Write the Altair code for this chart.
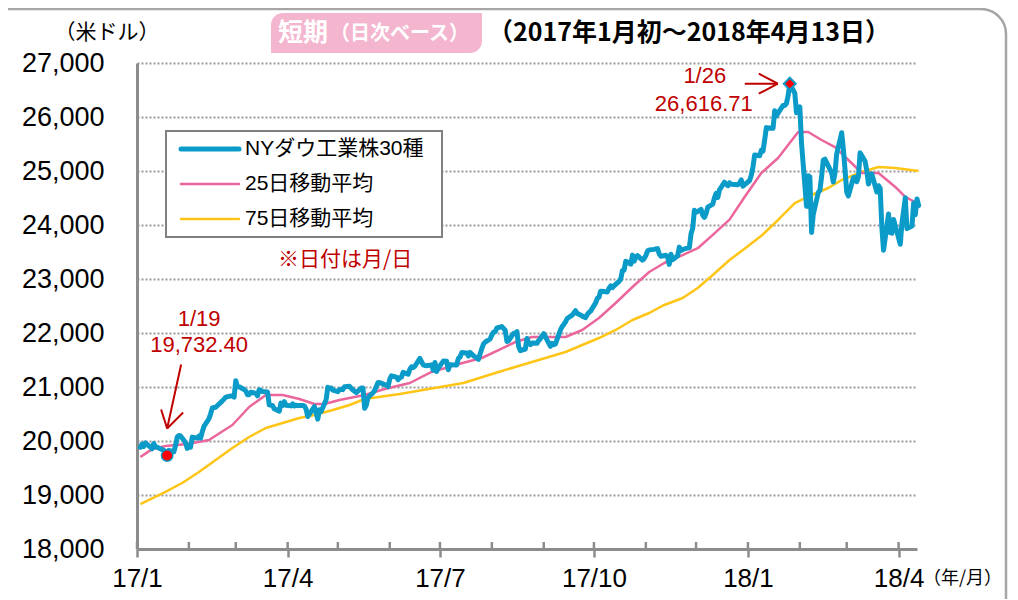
import altair as alt
import pandas as pd

# ---------------- data ----------------
dow_dates = [
    "2017-01-03","2017-01-04","2017-01-05","2017-01-06","2017-01-09","2017-01-10","2017-01-11","2017-01-12","2017-01-13",
    "2017-01-17","2017-01-18","2017-01-19","2017-01-20","2017-01-23","2017-01-24","2017-01-25","2017-01-26","2017-01-27",
    "2017-01-30","2017-01-31",
    "2017-02-01","2017-02-02","2017-02-03","2017-02-06","2017-02-07","2017-02-08","2017-02-09","2017-02-10","2017-02-13",
    "2017-02-14","2017-02-15","2017-02-16","2017-02-17","2017-02-21","2017-02-22","2017-02-23","2017-02-24","2017-02-27",
    "2017-02-28",
    "2017-03-01","2017-03-02","2017-03-03","2017-03-06","2017-03-07","2017-03-08","2017-03-09","2017-03-10","2017-03-13",
    "2017-03-14","2017-03-15","2017-03-16","2017-03-17","2017-03-20","2017-03-21","2017-03-22","2017-03-23","2017-03-24",
    "2017-03-27","2017-03-28","2017-03-29","2017-03-30","2017-03-31",
    "2017-04-03","2017-04-04","2017-04-05","2017-04-06","2017-04-07","2017-04-10","2017-04-11","2017-04-12","2017-04-13",
    "2017-04-17","2017-04-18","2017-04-19","2017-04-20","2017-04-21","2017-04-24","2017-04-25","2017-04-26","2017-04-27",
    "2017-04-28",
    "2017-05-01","2017-05-02","2017-05-03","2017-05-04","2017-05-05","2017-05-08","2017-05-09","2017-05-10","2017-05-11",
    "2017-05-12","2017-05-15","2017-05-16","2017-05-17","2017-05-18","2017-05-19","2017-05-22","2017-05-23","2017-05-24",
    "2017-05-25","2017-05-26","2017-05-30","2017-05-31",
    "2017-06-01","2017-06-02","2017-06-05","2017-06-06","2017-06-07","2017-06-08","2017-06-09","2017-06-12","2017-06-13",
    "2017-06-14","2017-06-15","2017-06-16","2017-06-19","2017-06-20","2017-06-21","2017-06-22","2017-06-23","2017-06-26",
    "2017-06-27","2017-06-28","2017-06-29","2017-06-30",
    "2017-07-03","2017-07-05","2017-07-06","2017-07-07","2017-07-10","2017-07-11","2017-07-12","2017-07-13","2017-07-14",
    "2017-07-17","2017-07-18","2017-07-19","2017-07-20","2017-07-21","2017-07-24","2017-07-25","2017-07-26","2017-07-27",
    "2017-07-28","2017-07-31",
    "2017-08-01","2017-08-02","2017-08-03","2017-08-04","2017-08-07","2017-08-08","2017-08-09","2017-08-10","2017-08-11",
    "2017-08-14","2017-08-15","2017-08-16","2017-08-17","2017-08-18","2017-08-21","2017-08-22","2017-08-23","2017-08-24",
    "2017-08-25","2017-08-28","2017-08-29","2017-08-30","2017-08-31",
    "2017-09-01","2017-09-05","2017-09-06","2017-09-07","2017-09-08","2017-09-11","2017-09-12","2017-09-13","2017-09-14",
    "2017-09-15","2017-09-18","2017-09-19","2017-09-20","2017-09-21","2017-09-22","2017-09-25","2017-09-26","2017-09-27",
    "2017-09-28","2017-09-29",
    "2017-10-02","2017-10-03","2017-10-04","2017-10-05","2017-10-06","2017-10-09","2017-10-10","2017-10-11","2017-10-12",
    "2017-10-13","2017-10-16","2017-10-17","2017-10-18","2017-10-19","2017-10-20","2017-10-23","2017-10-24","2017-10-25",
    "2017-10-26","2017-10-27","2017-10-30","2017-10-31",
    "2017-11-01","2017-11-02","2017-11-03","2017-11-06","2017-11-07","2017-11-08","2017-11-09","2017-11-10","2017-11-13",
    "2017-11-14","2017-11-15","2017-11-16","2017-11-17","2017-11-20","2017-11-21","2017-11-22","2017-11-24","2017-11-27",
    "2017-11-28","2017-11-29","2017-11-30",
    "2017-12-01","2017-12-04","2017-12-05","2017-12-06","2017-12-07","2017-12-08","2017-12-11","2017-12-12","2017-12-13",
    "2017-12-14","2017-12-15","2017-12-18","2017-12-19","2017-12-20","2017-12-21","2017-12-22","2017-12-26","2017-12-27",
    "2017-12-28","2017-12-29",
    "2018-01-02","2018-01-03","2018-01-04","2018-01-05","2018-01-08","2018-01-09","2018-01-10","2018-01-11","2018-01-12",
    "2018-01-16","2018-01-17","2018-01-18","2018-01-19","2018-01-22","2018-01-23","2018-01-24","2018-01-25","2018-01-26",
    "2018-01-29","2018-01-30","2018-01-31",
    "2018-02-01","2018-02-02","2018-02-05","2018-02-06","2018-02-07","2018-02-08","2018-02-09","2018-02-12","2018-02-13",
    "2018-02-14","2018-02-15","2018-02-16","2018-02-20","2018-02-21","2018-02-22","2018-02-23","2018-02-26","2018-02-27",
    "2018-02-28",
    "2018-03-01","2018-03-02","2018-03-05","2018-03-06","2018-03-07","2018-03-08","2018-03-09","2018-03-12","2018-03-13",
    "2018-03-14","2018-03-15","2018-03-16","2018-03-19","2018-03-20","2018-03-21","2018-03-22","2018-03-23","2018-03-26",
    "2018-03-27","2018-03-28","2018-03-29",
    "2018-04-02","2018-04-03","2018-04-04","2018-04-05","2018-04-06","2018-04-09","2018-04-10","2018-04-11","2018-04-12",
    "2018-04-13",
]
dow_close = [
    19881.76,19942.16,19899.29,19963.80,19887.38,19855.53,19954.28,19891.00,19885.73,
    19826.77,19804.72,19732.40,19827.25,19799.85,19912.71,20068.51,20100.91,20093.78,
    19971.13,19864.09,
    19890.94,19884.91,20071.46,20052.42,20090.29,20054.34,20172.40,20269.37,20412.16,
    20504.41,20611.86,20619.77,20624.05,20743.00,20775.60,20810.32,20821.76,20837.44,
    20812.24,
    21115.55,21002.97,21005.71,20954.34,20924.76,20855.73,20858.19,20902.98,20881.48,
    20837.37,20950.10,20934.55,20914.62,20905.86,20668.01,20661.30,20656.58,20596.72,
    20550.98,20701.50,20659.32,20728.49,20663.22,
    20650.21,20689.24,20648.15,20662.95,20656.10,20658.02,20651.30,20591.86,20453.25,
    20636.92,20523.28,20404.49,20578.71,20547.76,20763.89,20996.12,20975.09,20981.33,
    20940.51,
    20913.46,20949.89,20957.90,20951.47,21006.94,21012.42,20975.78,20943.11,20919.42,
    20896.61,20981.94,20979.75,20606.93,20663.02,20804.84,20894.83,20937.91,21012.28,
    21082.95,21080.28,21029.47,21008.65,
    21144.18,21206.29,21184.04,21136.23,21173.69,21182.53,21271.97,21235.67,21328.47,
    21374.56,21359.90,21384.28,21528.99,21467.14,21410.03,21397.29,21394.76,21409.55,
    21310.66,21454.61,21287.03,21349.63,
    21479.27,21478.17,21320.04,21414.34,21408.52,21409.07,21532.14,21553.09,21637.74,
    21629.72,21574.73,21640.75,21611.78,21580.07,21513.17,21613.43,21711.01,21796.55,
    21830.31,21891.12,
    21963.92,22016.24,22026.10,22092.81,22118.42,22085.34,22048.70,21844.01,21858.32,
    21993.71,21998.99,22024.87,21750.73,21674.51,21703.75,21899.89,21812.09,21783.40,
    21813.67,21808.40,21865.37,21892.43,21948.10,
    21987.56,21753.31,21807.64,21784.78,21797.79,22057.37,22118.86,22158.18,22203.48,
    22268.34,22331.35,22370.80,22412.59,22359.23,22349.59,22296.09,22284.32,22340.71,
    22381.20,22405.09,
    22557.60,22641.67,22661.64,22775.39,22773.67,22761.07,22830.68,22872.89,22841.01,
    22871.72,22956.96,22997.44,23157.60,23163.04,23328.63,23273.96,23441.76,23329.46,
    23400.86,23434.19,23348.74,23377.24,
    23435.01,23516.26,23539.19,23548.42,23557.23,23563.36,23461.94,23422.21,23439.70,
    23409.47,23271.28,23458.36,23358.24,23430.33,23590.83,23526.18,23557.99,23580.78,
    23836.71,23940.68,24272.35,
    24231.59,24290.05,24180.64,24140.91,24211.48,24329.16,24386.03,24504.80,24585.43,
    24508.66,24651.74,24792.20,24754.75,24726.65,24782.29,24754.06,24746.21,24774.30,
    24837.51,24719.22,
    24824.01,24922.68,25075.13,25295.87,25283.00,25385.80,25369.13,25574.73,25803.19,
    25792.86,26115.65,26017.81,26071.72,26214.60,26210.81,26252.12,26392.79,26616.71,
    26439.48,26076.89,26149.39,
    26186.71,25520.96,24345.75,24912.77,24893.35,23860.46,24190.90,24601.27,24640.45,
    24893.49,25200.37,25219.38,24964.75,24797.78,24962.48,25309.99,25709.27,25410.03,
    25029.20,
    24608.98,24538.06,24874.76,24884.12,24801.36,24895.21,25335.74,25178.61,25007.03,
    24758.12,24873.66,24946.51,24610.91,24727.27,24682.31,23957.89,23533.20,24202.60,
    23857.71,23848.42,24103.11,
    23644.19,24033.36,24264.30,24505.22,23932.76,23979.10,24407.96,24189.45,24483.05,
    24360.14,
]

ma25_dates = [
    "2017-01-03","2017-01-10","2017-01-18","2017-01-31","2017-02-13","2017-02-27","2017-03-09","2017-03-19",
    "2017-03-29","2017-04-08","2017-04-17","2017-04-23","2017-05-02","2017-05-17","2017-05-29","2017-06-13",
    "2017-06-26","2017-07-15","2017-07-26","2017-08-05","2017-08-15","2017-08-25","2017-09-04","2017-09-14",
    "2017-09-24","2017-10-04","2017-10-14","2017-10-24","2017-11-03","2017-11-12","2017-11-23","2017-12-02",
    "2017-12-10","2017-12-21","2017-12-30","2018-01-09","2018-01-19","2018-01-25","2018-01-31","2018-02-06",
    "2018-02-14","2018-02-22","2018-03-02","2018-03-10","2018-03-20","2018-03-30","2018-04-05","2018-04-13",
]
ma25_values = [
    19704,19850,19907,19944,20019,20296,20630,20852,
    20852,20778,20685,20685,20759,20852,20963,21074,
    21278,21450,21537,21685,21833,21926,21926,21926,
    22056,22278,22556,22852,23130,23296,23444,23570,
    23790,24100,24519,24963,25241,25481,25722,25722,
    25574,25444,25204,24963,24963,24704,24519,24389,
]

ma75_dates = [
    "2017-01-03","2017-01-18","2017-01-28","2017-02-07","2017-02-17","2017-02-27","2017-03-09","2017-03-19",
    "2017-03-29","2017-04-08","2017-04-17","2017-04-28","2017-05-08","2017-05-17","2017-06-07","2017-06-26",
    "2017-07-15","2017-08-05","2017-08-25","2017-09-14","2017-10-04","2017-10-14","2017-10-24","2017-11-03",
    "2017-11-12","2017-11-23","2017-12-02","2017-12-11","2017-12-21","2017-12-30","2018-01-09","2018-01-19",
    "2018-01-29","2018-02-08","2018-02-18","2018-02-26","2018-03-10","2018-03-20","2018-03-30","2018-04-13",
]
ma75_values = [
    18833,19056,19222,19426,19648,19870,20074,20241,
    20333,20426,20481,20574,20667,20778,20870,20972,
    21074,21278,21463,21648,21907,22056,22241,22370,
    22519,22648,22833,23075,23352,23560,23800,24093,
    24407,24556,24685,24833,24981,25074,25056,25000,
]

series_names = ["NYダウ工業株30種", "25日移動平均", "75日移動平均"]
series_colors = ["#0B9BC9", "#EA669C", "#FFC516"]
series_widths = [5, 2.5, 2.5]

y_ticks = [18000, 19000, 20000, 21000, 22000, 23000, 24000, 25000, 26000, 27000]
x_tick_dates = ["2017-01-01", "2017-04-01", "2017-07-01", "2017-10-01", "2018-01-01", "2018-04-01"]
month_starts = [
    "2017-01-01","2017-02-01","2017-03-01","2017-04-01","2017-05-01","2017-06-01","2017-07-01","2017-08-01",
    "2017-09-01","2017-10-01","2017-11-01","2017-12-01","2018-01-01","2018-02-01","2018-03-01","2018-04-01",
]
x_domain = ["2017-01-01", "2018-04-12"]

annot_dates = ["2017-01-19", "2018-01-26"]
annot_values = [19732.40, 26616.71]
annot_day_labels = ["1/19", "1/26"]
annot_value_labels = ["19,732.40", "26,616.71"]

title_unit = "（米ドル）"
title_tag_1 = "短期"
title_tag_2 = "（日次ベース）"
title_main = "（2017年1月初～2018年4月13日）"
note_text = "※日付は月/日"
x_unit = "（年/月）"

# ---------------- styling ----------------
CJK = "Noto Sans CJK JP"
LAT = "Liberation Sans"
RED = "#C00000"
AXIS_GRAY = "#8C8C8C"
W, H = 780, 486


def dt(s):
    y, m, d = (int(p) for p in s.split("-"))
    return alt.DateTime(year=y, month=m, date=d, utc=True)


x_scale = alt.Scale(type="utc", domain=[dt(x_domain[0]), dt(x_domain[1])])
y_scale = alt.Scale(domain=[y_ticks[0], y_ticks[-1]], nice=False, zero=False)

x_axis = alt.Axis(
    values=[dt(d) for d in x_tick_dates],
    labelExpr="utcFormat(datum.value, '%y/%-m')",
    title=None, grid=False,
    tickSize=8, tickWidth=2.5, tickColor=AXIS_GRAY,
    domainColor=AXIS_GRAY, domainWidth=3,
    labelFont=LAT, labelFontSize=26, labelColor="black",
    labelPadding=8, labelFlush=False, labelOverlap=False,
)
y_axis = alt.Axis(
    values=y_ticks, format=",d", title=None, ticks=False,
    labelFont=LAT, labelFontSize=27, labelColor="black", labelPadding=33,
    grid=True, gridColor="#9A9A9A", gridDash=[2, 2], gridWidth=2,
    domainColor=AXIS_GRAY, domainWidth=3,
)


def X():
    return alt.X("date:T", scale=x_scale, axis=x_axis)


def Y():
    return alt.Y("value:Q", scale=y_scale, axis=y_axis)


one = pd.DataFrame({"k": [0]})


def px_text(text, x, y, size, color="black", weight="normal", font=CJK, align="left"):
    return alt.Chart(pd.DataFrame({"t": [text]})).mark_text(
        align=align, baseline="middle", fontSize=size, fontWeight=weight, color=color, font=font
    ).encode(x=alt.value(x), y=alt.value(y), text="t:N")


def px_rule(x1, y1, x2, y2, color, width, cap="butt"):
    return alt.Chart(one).mark_rule(color=color, strokeWidth=width, strokeCap=cap).encode(
        x=alt.value(x1), y=alt.value(y1), x2=alt.value(x2), y2=alt.value(y2)
    )


dow_df = pd.DataFrame({"date": dow_dates, "value": dow_close})
ma25_df = pd.DataFrame({"date": ma25_dates, "value": ma25_values})
ma75_df = pd.DataFrame({"date": ma75_dates, "value": ma75_values})
months_df = pd.DataFrame({"date": month_starts})

layers = []

# outer rounded frame
layers.append(
    alt.Chart(one).mark_rect(fillOpacity=0, stroke="#A6A6A6", strokeWidth=2.5, cornerRadius=25).encode(
        x=alt.value(-160), x2=alt.value(869), y=alt.value(-54), y2=alt.value(600)
    )
)

# header
layers.append(px_text(title_unit, -30, -30, 21, align="center"))
layers.append(
    alt.Chart(one).mark_rect(color="#F4B6CF", cornerRadiusTopLeft=12, cornerRadiusBottomRight=12).encode(
        x=alt.value(134), x2=alt.value(345), y=alt.value(-50), y2=alt.value(-10)
    )
)
layers.append(px_text(title_tag_1, 141, -30, 25, color="white", weight="bold"))
layers.append(px_text(title_tag_2, 193, -29, 20, color="white", weight="bold"))
layers.append(px_text(title_main, 351, -30, 25, weight="bold"))

# minor (inside) monthly ticks
layers.append(
    alt.Chart(months_df).mark_rule(color=AXIS_GRAY, strokeWidth=2.5).encode(
        x=X(), y=alt.value(H - 7), y2=alt.value(H)
    )
)

# series
layers.append(
    alt.Chart(ma75_df).mark_line(color=series_colors[2], strokeWidth=series_widths[2], strokeJoin="round").encode(x=X(), y=Y())
)
layers.append(
    alt.Chart(ma25_df).mark_line(color=series_colors[1], strokeWidth=series_widths[1], strokeJoin="round").encode(x=X(), y=Y())
)
layers.append(
    alt.Chart(dow_df).mark_line(color=series_colors[0], strokeWidth=series_widths[0], strokeJoin="round", strokeCap="round").encode(x=X(), y=Y())
)

# annotations
low_df = pd.DataFrame({"date": [annot_dates[0]], "value": [annot_values[0]]})
high_df = pd.DataFrame({"date": [annot_dates[1]], "value": [annot_values[1]]})


def arrow(df, segs):
    out = []
    for (a, b, c, d) in segs:
        out.append(
            alt.Chart(df).mark_rule(color=RED, strokeWidth=2, xOffset=a, yOffset=b, x2Offset=c, y2Offset=d).encode(
                x=X(), y=Y(), x2=alt.X2("date"), y2=alt.Y2("value")
            )
        )
    return out


layers += arrow(low_df, [(14, -91, 0, -27), (-6, -46, 0, -27), (16, -43, 0, -27)])
layers += arrow(high_df, [(-45, 0, -12, 0), (-31, -10, -12, 0), (-31, 10, -12, 0)])

layers.append(
    alt.Chart(low_df).mark_point(shape="circle", filled=True, fill="#FF0000", stroke=series_colors[0], strokeWidth=1.5, size=130, opacity=1).encode(x=X(), y=Y())
)
layers.append(
    alt.Chart(high_df).mark_point(shape="diamond", filled=True, fill="#FF0000", stroke=series_colors[0], strokeWidth=2, size=144, opacity=1).encode(x=X(), y=Y())
)


def annot_text(df, text, dx, dy):
    return alt.Chart(df).mark_text(
        align="center", baseline="middle", fontSize=22, font=LAT, color=RED, dx=dx, dy=dy
    ).encode(x=X(), y=Y(), text=alt.value(text))


layers.append(annot_text(low_df, annot_day_labels[0], 32, -136))
layers.append(annot_text(low_df, annot_value_labels[0], 32, -110))
layers.append(annot_text(high_df, annot_day_labels[1], -85, -8))
layers.append(annot_text(high_df, annot_value_labels[1], -86, 20))

# legend box
layers.append(
    alt.Chart(one).mark_rect(fill="white", stroke="#7F7F7F", strokeWidth=2).encode(
        x=alt.value(29), x2=alt.value(305), y=alt.value(68), y2=alt.value(174)
    )
)
for i, (nm, col, wd) in enumerate(zip(series_names, series_colors, series_widths)):
    yy = 86 + 35 * i
    layers.append(px_rule(44, yy, 102, yy, col, wd, cap="round"))
    layers.append(px_text(nm, 108, yy, 21, font=LAT + ", " + CJK))

layers.append(px_text(note_text, 141, 197, 21, color=RED))
layers.append(px_text(x_unit, 786, 516, 18))

chart = alt.layer(*layers).properties(
    width=W, height=H,
    autosize=alt.AutoSizeParams(type="none"),
    padding={"left": 129, "top": 55, "right": 91, "bottom": 50},
    background="white",
).configure_view(strokeOpacity=0)

chart.save("out.html", embed_options={"renderer": "svg", "actions": False})
